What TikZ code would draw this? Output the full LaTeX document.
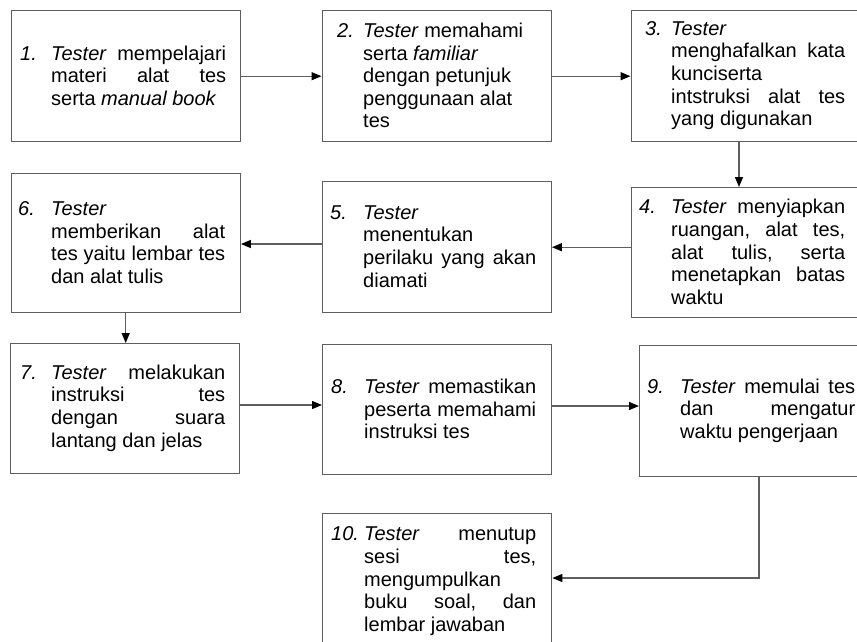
\documentclass[tikz,border=0pt]{standalone}
\usepackage{fontspec}
\setmainfont{Liberation Sans}
\usetikzlibrary{arrows.meta}
\definecolor{linegray}{HTML}{5E5E5E}
\begin{document}
\begin{tikzpicture}[x=1pt,y=-1pt,
  box/.style={draw=linegray, line width=1.4pt, inner sep=0pt, anchor=north west},
  arr/.style={draw=linegray, line width=1.3pt, -{Triangle[length=10pt,width=8pt,color=black]}},
  txt/.style={inner sep=0pt, anchor=west, text=black, font=\fontsize{20}{22.6}\selectfont}]
\useasboundingbox (0,0) rectangle (857,641);
\clip (0,0) rectangle (857,641);
% boxes
\node[box, minimum width=229pt, minimum height=131pt] (b1) at (10.5,10) {};
\node[box, minimum width=229pt, minimum height=131pt] (b2) at (321.5,10) {};
\node[box, minimum width=240pt, minimum height=131pt] (b3) at (630.5,10) {};
\node[box, minimum width=240pt, minimum height=130pt] (b4) at (630.5,187) {};
\node[box, minimum width=229pt, minimum height=131pt] (b5) at (321.5,181) {};
\node[box, minimum width=229pt, minimum height=139pt] (b6) at (10.5,173) {};
\node[box, minimum width=229pt, minimum height=130pt] (b7) at (10,343) {};
\node[box, minimum width=229pt, minimum height=130pt] (b8) at (322,344) {};
\node[box, minimum width=231pt, minimum height=131pt] (b9) at (639,345) {};
\node[box, minimum width=229pt, minimum height=150pt] (b10) at (322,513) {};
% texts
\node[txt] (t1) at (20,75.5) {\makebox[31pt][l]{\itshape 1.}\parbox[t]{175pt}{\textit{Tester}\hfill mempelajari\\ materi\hfill alat\hfill tes\\ serta \textit{manual book}}};
\node[txt] (t2) at (337,75.5) {\makebox[26pt][l]{\itshape 2.}\parbox[t]{178pt}{\textit{Tester} memahami\\ serta \textit{familiar}\\ dengan petunjuk\\ penggunaan alat\\ tes}};
\node[txt] (t3) at (645,75.5) {\makebox[26pt][l]{\itshape 3.}\parbox[t]{174pt}{\textit{Tester}\\ menghafalkan\hfill kata\\ kunciserta\\ intstruksi\hfill alat\hfill tes\\ yang digunakan}};
\node[txt] (t4) at (639,252) {\makebox[32pt][l]{\itshape 4.}\parbox[t]{174pt}{\textit{Tester}\hfill menyiapkan\\ ruangan,\hfill alat\hfill tes,\\ alat\hfill tulis,\hfill serta\\ menetapkan\hfill batas\\ waktu}};
\node[txt] (t5) at (330,246.5) {\makebox[33pt][l]{\itshape 5.}\parbox[t]{173pt}{\textit{Tester}\\ menentukan\\ perilaku\hfill yang\hfill akan\\ diamati}};
\node[txt] (t6) at (18,242.5) {\makebox[33pt][l]{\itshape 6.}\parbox[t]{174pt}{\textit{Tester}\\ memberikan\hfill alat\\ tes\hfill yaitu\hfill lembar\hfill tes\\ dan alat tulis}};
\node[txt] (t7) at (20,408) {\makebox[31pt][l]{\itshape 7.}\parbox[t]{174pt}{\textit{Tester}\hfill melakukan\\ instruksi\hfill tes\\ dengan\hfill suara\\ lantang dan jelas}};
\node[txt] (t8) at (331,409) {\makebox[33pt][l]{\itshape 8.}\parbox[t]{172pt}{\textit{Tester}\hfill memastikan\\ peserta\hfill memahami\\ instruksi tes}};
\node[txt] (t9) at (647,410.5) {\makebox[33pt][l]{\itshape 9.}\parbox[t]{175pt}{\textit{Tester}\hfill memulai\hfill tes\\ dan\hfill mengatur\\ waktu pengerjaan}};
\node[txt, anchor=north west] (t10) at (331,526.7) {\makebox[33pt][l]{\itshape 10.}\parbox[t]{172pt}{\textit{Tester}\hfill menutup\\ sesi\hfill tes,\\ mengumpulkan\\ buku\hfill soal,\hfill dan\\ lembar jawaban}};
% connectors
\coordinate (c34) at (739,0);
\coordinate (c56) at (0,244);
\coordinate (c78) at (0,405);
\coordinate (c89) at (0,406);
\coordinate (c910) at (759,578);
\draw[arr] (b1.east) -- (b2.west);
\draw[arr] (b2.east) -- (b3.west);
\draw[arr] (c34 |- b3.south) -- (c34 |- b4.north);
\draw[arr] (b4.west |- b5.east) -- (b5.east);
\draw[arr] (b5.west |- c56) -- (b6.east |- c56);
\draw[arr] (b6.south) -- (b6.south |- b7.north);
\draw[arr] (b7.east |- c78) -- (b8.west |- c78);
\draw[arr] (b8.east |- c89) -- (b9.west |- c89);
\draw[arr] (c910 |- b9.south) |- (b10.east |- c910);
\end{tikzpicture}
\end{document}
